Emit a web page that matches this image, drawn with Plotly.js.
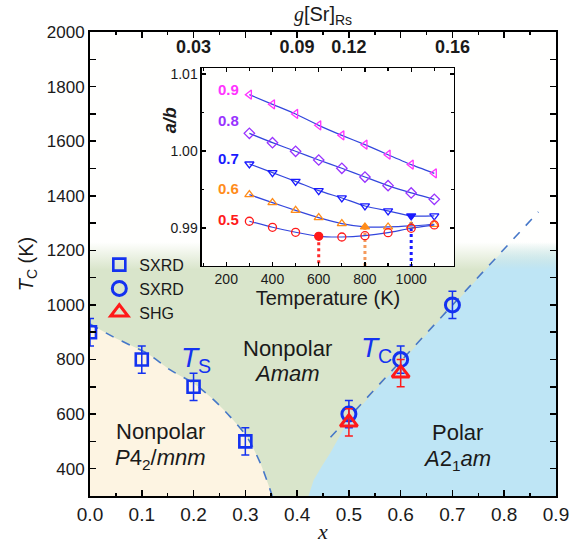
<!DOCTYPE html>
<html><head><meta charset="utf-8">
<script src="https://cdn.plot.ly/plotly-3.0.1.min.js"></script>
<style>html,body{margin:0;padding:0;background:#fff}#chart{width:585px;height:554px}</style>
</head><body><div id="chart"></div>
<script>
// ---------- main phase diagram data ----------
const sqX = [0.0, 0.1, 0.2, 0.3];
const sqT = [900, 800, 700, 500];
const sqErr = [50, 50, 50, 50];
const ciX = [0.5, 0.6, 0.7];
const ciT = [600, 800, 1000];
const ciErr = [50, 50, 50];
const trX = [0.5, 0.6];
const trT = [570, 750];
const trErr = [50, 50];
const legendNames = ['SXRD', 'SXRD', 'SHG'];

// phase boundaries
const tsX = [0, 0.045, 0.077, 0.11, 0.155, 0.2, 0.239, 0.271, 0.303, 0.329, 0.352];
const tsT = [930, 883, 853, 823, 762, 713, 652, 590, 517, 420, 300];
const tcX = [0.4645, 0.866];
const tcT = [515, 1341];
const polarX = [0.40, 0.422, 0.432, 0.448, 0.464, 0.48, 0.5, 0.83, 0.95, 0.95];
const polarT = [0, 300, 359, 410, 458, 512, 580, 1265, 1265, 0];
const ambX = [-0.05, 0.95, 0.95, -0.05];
const ambT = [0, 0, 1265, 1265];
const fadeStart = 1130, fadeStop = 1230;

// top axis g[Sr]Rs
const gTickX = [0.2, 0.4, 0.5, 0.7];
const gTickText = ['0.03', '0.09', '0.12', '0.16'];

// ---------- inset data ----------
const temps = [300, 400, 500, 600, 700, 800, 900, 1000, 1100];
const ab09 = [1.00732, 1.00606, 1.00481, 1.00333, 1.00203, 1.00082, 0.99952, 0.99823, 0.99710];
const ab08 = [1.00229, 1.00108, 0.99996, 0.99883, 0.99775, 0.99662, 0.99550, 0.99455, 0.99372];
const ab07 = [0.99831, 0.99719, 0.99606, 0.99485, 0.99390, 0.99286, 0.99221, 0.99156, 0.99156];
const ab06 = [0.99433, 0.99329, 0.99229, 0.99134, 0.99056, 0.99013, 0.99013, 0.99026, 0.99048];
const ab05 = [0.99087, 0.99009, 0.98944, 0.98892, 0.98883, 0.98900, 0.98939, 0.98996, 0.99039];
const seriesLabels = ['0.9', '0.8', '0.7', '0.6', '0.5'];
const labelT = [210, 210, 210, 210, 210];
const labelAB = [1.00801, 1.00398, 0.99900, 0.99511, 0.99108];
const transT = [null, null, 1000, 800, 600]; // filled points (transition temperature)

const seriesColors = ['#ff33ff', '#9933ff', '#1a1aff', '#ff8c1a', '#ff1a1a'];
const seriesSymbols = ['triangle-left', 'diamond', 'triangle-down', 'triangle-up', 'circle'];
const dotColors = [null, null, '#1a1aff', '#f59a5c', '#ff2a2a'];
const insetRange = [0.98506, 1.01078];

const BLUE = '#1432f0', RED = '#ff1a1a', DASH = '#4677c8';
const GREEN = 'rgb(217,229,203)', BLUEBG = 'rgb(190,229,245)', ORANGE = 'rgb(253,244,226)';

const traces = [];
// Nonpolar Amam region (green, fades out at top)
traces.push({x: ambX, y: ambT, mode: 'none', fill: 'toself', showlegend: false, hoverinfo: 'skip',
  fillgradient: {type: 'vertical', start: fadeStart, stop: fadeStop,
    colorscale: [[0, GREEN], [1, 'rgba(217,229,203,0)']]}});
// Nonpolar P4_2/mnm region + T_S boundary
traces.push({x: tsX, y: tsT, mode: 'lines', fill: 'tozeroy', fillcolor: ORANGE,
  line: {color: DASH, width: 1.6, dash: 'dash', shape: 'spline', smoothing: 0.8},
  showlegend: false, hoverinfo: 'skip'});
// Polar region
traces.push({x: polarX, y: polarT, mode: 'none', fill: 'toself', showlegend: false, hoverinfo: 'skip',
  fillgradient: {type: 'vertical', start: fadeStart, stop: fadeStop,
    colorscale: [[0, BLUEBG], [1, 'rgba(190,229,245,0)']]}});
// T_C boundary
traces.push({x: tcX, y: tcT, mode: 'lines', line: {color: DASH, width: 1.6, dash: 'dash'},
  showlegend: false, hoverinfo: 'skip'});
// data points
traces.push({x: sqX, y: sqT, name: legendNames[0], mode: 'markers',
  marker: {symbol: 'square-open', size: 12, color: BLUE, line: {width: 2.6, color: BLUE}},
  error_y: {type: 'data', array: sqErr, color: BLUE, thickness: 1.5, width: 4}});
traces.push({x: ciX, y: ciT, name: legendNames[1], mode: 'markers',
  marker: {symbol: 'circle-open', size: 14, color: BLUE, line: {width: 3, color: BLUE}},
  error_y: {type: 'data', array: ciErr, color: BLUE, thickness: 1.5, width: 4}});
traces.push({x: trX, y: trT, name: legendNames[2], mode: 'markers',
  marker: {symbol: 'triangle-up-open', size: 15, color: RED, line: {width: 3, color: RED}},
  error_y: {type: 'data', array: trErr, color: RED, thickness: 1.5, width: 4}});
// dummy trace for top axis
traces.push({x: gTickX, y: gTickX.map(() => null), xaxis: 'x2', yaxis: 'y', mode: 'markers', showlegend: false, hoverinfo: 'skip'});

// dotted drop lines at transition temperatures (drawn beneath the series)
const abSeries = [ab09, ab08, ab07, ab06, ab05];
abSeries.forEach((ab, i) => {
  if (transT[i] === null) return;
  const k = temps.indexOf(transT[i]);
  traces.push({x: [transT[i], transT[i]], y: [ab[k], insetRange[0]], xaxis: 'x3', yaxis: 'y3',
    mode: 'lines', line: {color: dotColors[i], width: 3, dash: 'dot'}, showlegend: false, hoverinfo: 'skip'});
});
// inset series
abSeries.forEach((ab, i) => {
  const sym = temps.map(t => (t === transT[i] ? seriesSymbols[i] : seriesSymbols[i] + '-open'));
  traces.push({x: temps, y: ab, xaxis: 'x3', yaxis: 'y3', mode: 'lines+markers', showlegend: false,
    line: {color: '#3346dd', width: 1.2, shape: 'spline', smoothing: 0.5},
    marker: {symbol: sym, size: 8, color: seriesColors[i], line: {width: 1.3, color: seriesColors[i]}},
    hoverinfo: 'skip'});
});

const annotations = [
  {x: 0.3805, y: 840, text: 'Nonpolar', font: {size: 22}},
  {x: 0.3805, y: 748, text: '<i>Amam</i>', font: {size: 22}},
  {x: 0.137, y: 535, text: 'Nonpolar', font: {size: 22}},
  {x: 0.136, y: 434, text: '<i>P</i>4<sub>2</sub>/<i>mnm</i>', font: {size: 22}},
  {x: 0.71, y: 531, text: 'Polar', font: {size: 22}},
  {x: 0.708, y: 433, text: '<i>A</i>2<sub>1</sub><i>am</i>', font: {size: 22}},
  {x: 0.205, y: 800, text: '<i>T</i><sub>S</sub>', font: {size: 28, color: BLUE}},
  {x: 0.553, y: 836, text: '<i>T</i><sub>C</sub>', font: {size: 28, color: BLUE}}
].map(a => Object.assign({xref: 'x', yref: 'y', showarrow: false, xanchor: 'center', yanchor: 'middle'}, a));
seriesLabels.forEach((s, i) => {
  annotations.push({x: labelT[i], y: labelAB[i], xref: 'x3', yref: 'y3', text: '<b>' + s + '</b>',
    showarrow: false, font: {size: 15, color: seriesColors[i]}, xanchor: 'center', yanchor: 'middle'});
});
// inset y-axis title
annotations.push({x: 0.172, y: 0.81, xref: 'paper', yref: 'paper', text: '<b><i>a/b</i></b>', textangle: -90,
  showarrow: false, font: {size: 18}, xanchor: 'center', yanchor: 'middle'});

const axBase = {showline: true, linewidth: 2, linecolor: '#000', mirror: 'allticks', showgrid: false,
  zeroline: false, ticks: 'inside', tickcolor: '#000'};

const layout = {
  width: 585, height: 554,
  margin: {l: 90, r: 29, t: 32, b: 58},
  paper_bgcolor: '#ffffff', plot_bgcolor: '#fffffe',
  font: {family: 'Liberation Sans, Arial, sans-serif', color: '#1a1a1a'},
  title: {text: '<span style="font-family:Liberation Serif"><i>g</i></span>[Sr]<sub>Rs</sub>',
    font: {size: 20}, x: 0.5, xref: 'paper', y: 0.975, yref: 'container', yanchor: 'middle'},
  showlegend: true,
  legend: {x: 0.02, y: 0.535, xanchor: 'left', yanchor: 'top', bgcolor: 'rgba(0,0,0,0)',
    font: {size: 16}, tracegroupgap: 0},
  xaxis: Object.assign({}, axBase, {range: [0, 0.9], tick0: 0, dtick: 0.1, tickformat: '.1f',
    ticklen: 6, tickwidth: 1.5, minor: {dtick: 0.05, ticks: 'inside', ticklen: 3, tickwidth: 1.5, tickcolor: '#000'},
    tickfont: {size: 19},
    title: {text: '<i>x</i>', font: {family: 'Liberation Serif, serif', size: 22}, standoff: 0}}),
  yaxis: Object.assign({}, axBase, {range: [300, 2000], tick0: 0, dtick: 200,
    ticklen: 6, tickwidth: 1.5, minor: {dtick: 100, ticks: 'inside', ticklen: 3, tickwidth: 1.5, tickcolor: '#000'},
    tickfont: {size: 17},
    title: {text: '<i>T</i><sub>C</sub> (K)', font: {size: 20}, standoff: 8}}),
  xaxis2: {overlaying: 'x', side: 'top', anchor: 'y', range: [0, 0.9], tickvals: gTickX, ticktext: gTickText,
    ticks: '', ticklabelposition: 'outside', ticklabelstandoff: -26, showline: false, showgrid: false, zeroline: false,
    tickfont: {size: 18, weight: 'bold'}},
  xaxis3: Object.assign({}, axBase, {domain: [0.2403, 0.781], anchor: 'y3', range: [95, 1185],
    tick0: 0, dtick: 200, linewidth: 1.5, ticklen: 4, tickwidth: 1.2,
    minor: {dtick: 100, ticks: 'inside', ticklen: 2.5, tickwidth: 1.2, tickcolor: '#000'},
    tickfont: {size: 14},
    title: {text: 'Temperature (K)', font: {size: 20}, standoff: 2}}),
  yaxis3: Object.assign({}, axBase, {domain: [0.4957, 0.9224], anchor: 'x3', range: insetRange,
    tick0: 0, dtick: 0.01, tickformat: '.2f', linewidth: 1.5, ticklen: 4, tickwidth: 1.2,
    minor: {dtick: 0.005, ticks: 'inside', ticklen: 2.5, tickwidth: 1.2, tickcolor: '#000'},
    tickfont: {size: 14}}),
  annotations: annotations
};

Plotly.newPlot('chart', traces, layout, {staticPlot: true});
</script></body></html>
